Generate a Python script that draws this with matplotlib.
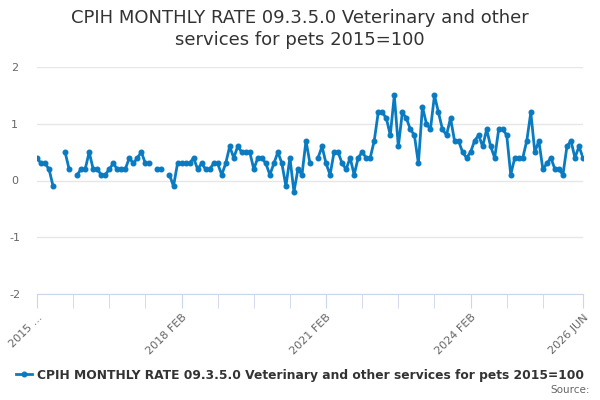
import numpy as np
import matplotlib
matplotlib.use("Agg")
import matplotlib.pyplot as plt

title = "CPIH MONTHLY RATE 09.3.5.0 Veterinary and other\nservices for pets 2015=100"
series_name = "CPIH MONTHLY RATE 09.3.5.0 Veterinary and other services for pets 2015=100"

# monthly values, 2015 FEB .. 2026 JUN (nan = no value)
nan = np.nan
values = [
    0.4, 0.3, 0.3, 0.2, -0.1, nan, nan, 0.5, 0.2, nan,
    0.1, 0.2, 0.2, 0.5, 0.2, 0.2, 0.1, 0.1, 0.2, 0.3,
    0.2, 0.2, 0.2, 0.4, 0.3, 0.4, 0.5, 0.3, 0.3, nan,
    0.2, 0.2, nan, 0.1, -0.1, 0.3, 0.3, 0.3, 0.3, 0.4,
    0.2, 0.3, 0.2, 0.2, 0.3, 0.3, 0.1, 0.3, 0.6, 0.4,
    0.6, 0.5, 0.5, 0.5, 0.2, 0.4, 0.4, 0.3, 0.1, 0.3,
    0.5, 0.3, -0.1, 0.4, -0.2, 0.2, 0.1, 0.7, 0.3, nan,
    0.4, 0.6, 0.3, 0.1, 0.5, 0.5, 0.3, 0.2, 0.4, 0.1,
    0.4, 0.5, 0.4, 0.4, 0.7, 1.2, 1.2, 1.1, 0.8, 1.5,
    0.6, 1.2, 1.1, 0.9, 0.8, 0.3, 1.3, 1.0, 0.9, 1.5,
    1.2, 0.9, 0.8, 1.1, 0.7, 0.7, 0.5, 0.4, 0.5, 0.7,
    0.8, 0.6, 0.9, 0.6, 0.4, 0.9, 0.9, 0.8, 0.1, 0.4,
    0.4, 0.4, 0.7, 1.2, 0.5, 0.7, 0.2, 0.3, 0.4, 0.2,
    0.2, 0.1, 0.6, 0.7, 0.4, 0.6, 0.4,
]
tick_pos = [0, 36, 72, 108, 136]
tick_labels = ["2015 ...", "2018 FEB", "2021 FEB", "2024 FEB", "2026 JUN"]
minor_pos = list(range(0, 130, 9))
y_ticks = [-2, -1, 0, 1, 2]

line_color = "#0b7bc1"

fig = plt.figure(figsize=(6, 4), dpi=100, facecolor="white")
ax = fig.add_axes([37 / 600, 1 - 294 / 400, 546 / 600, 227 / 400])

x = np.arange(len(values))
ax.plot(x, values, color=line_color, lw=2, marker="o", ms=3.3,
        label=series_name, zorder=3)

ax.set_xlim(0, len(values) - 1)
ax.set_ylim(-2, 2)
ax.set_yticks(y_ticks)
ax.set_yticklabels([str(v) for v in y_ticks])
ax.grid(axis="y", color="#e6e6e6", lw=1)
ax.set_axisbelow(True)

ax.set_xticks(minor_pos + [136], minor=True)
ax.set_xticks(tick_pos)
ax.set_xticklabels(tick_labels)
ax.tick_params(axis="x", which="both", length=10, color="#ccd6eb",
               labelsize=8, labelcolor="#666666", pad=3)
ax.tick_params(axis="y", length=0, labelsize=8, labelcolor="#666666", pad=16)
plt.setp(ax.get_xticklabels(), rotation=45, ha="right", va="top",
         rotation_mode="anchor")
for lbl in ax.get_yticklabels():
    lbl.set_horizontalalignment("center")

for side in ["top", "right", "left"]:
    ax.spines[side].set_visible(False)
ax.spines["bottom"].set_color("#ccd6eb")

fig.text(0.5, 1 - 29 / 400, title, ha="center", va="center",
         fontsize=13, color="#333333", linespacing=1.35)

leg = fig.legend(loc="center", bbox_to_anchor=(0.5, 1 - 375 / 400),
                 frameon=False, handlelength=1.3, handletextpad=0.4,
                 prop={"size": 8.8, "weight": "bold"})
for t in leg.get_texts():
    t.set_color("#333333")

fig.text(590 / 600, 1 - 390 / 400, "Source:", ha="right", va="center",
         fontsize=7.5, color="#666666")

fig.savefig("out.png", dpi=100, facecolor="white")
